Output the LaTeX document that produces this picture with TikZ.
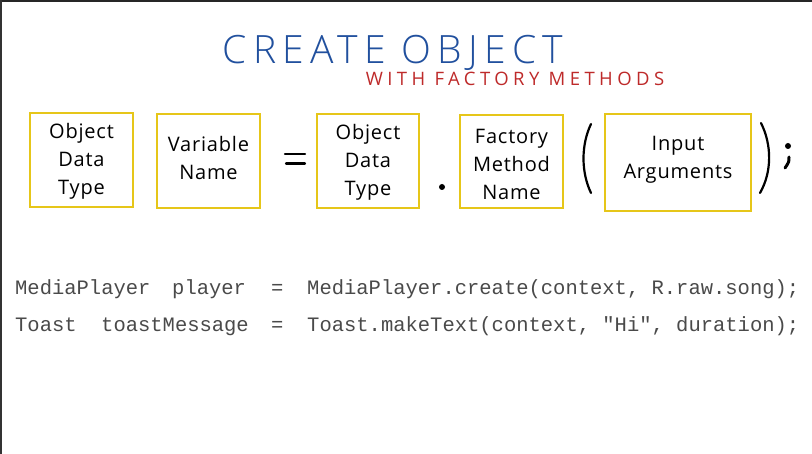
\documentclass[tikz,border=0pt]{standalone}
\usepackage{fontspec}
\setmainfont{Open Sans}
\newfontfamily\handfont[LetterSpace=4]{Open Sans}
\newfontfamily\titlefont[LetterSpace=16]{Open Sans Light}
\newfontfamily\subfont[LetterSpace=24]{Open Sans}
\setmonofont{Liberation Mono}
\definecolor{boxyellow}{HTML}{E6C619}
\definecolor{titleblue}{HTML}{21509E}
\definecolor{subred}{HTML}{BE2A2A}
\definecolor{codegray}{HTML}{4A4A4A}
\begin{document}
\begin{tikzpicture}[x=1pt,y=-1pt,
  termbox/.style={draw=boxyellow,line width=2pt},
  termtext/.style={font=\handfont\fontsize{20}{28}\selectfont,align=center,text=black},
  stroke/.style={line width=2.2pt,line cap=round,black},
  code/.style={font=\ttfamily\fontsize{20.5}{24}\selectfont,text=codegray,anchor=base west,inner sep=0pt}]
\useasboundingbox (0,0) rectangle (812,454);
\fill[white] (0,0) rectangle (812,454);
% frame edges
\fill[black!85] (0,0) rectangle (812,2);
\fill[black!80] (0,0) rectangle (2,454);

% title
\node[text=titleblue,font=\titlefont\fontsize{39}{40}\selectfont,anchor=base] (title) at (393,64) {CREATE OBJECT};
\node[text=subred,font=\subfont\fontsize{18.5}{20}\selectfont,anchor=base] (subtitle) at (515,86) {WITH FACTORY METHODS};

% boxes of the statement pattern
\draw[termbox] (30,113) rectangle (133,207);
\node[termtext] (type1) at (81.5,161) {Object\\Data\\Type};
\draw[termbox] (157,114) rectangle (260,208);
\node[termtext] (var) at (208.5,158) {Variable\\Name};
\draw[termbox] (317,114) rectangle (419,208);
\node[termtext] (type2) at (368,162) {Object\\Data\\Type};
\draw[termbox] (460,115) rectangle (563,208);
\node[termtext] (method) at (511.5,164) {Factory\\Method\\Name};
\draw[termbox] (605,114) rectangle (751,211);
\node[termtext] (args) at (678,160) {Input\\Arguments};

% operators
\draw[stroke] (285,154) -- (305,154);
\draw[stroke] (286,163.5) -- (305,163.5);
\fill[black] (442,187) circle (3pt);
\draw[stroke] (591,124) .. controls (581,145) and (581,172) .. (591,193);
\draw[stroke] (761,123) .. controls (772,145) and (772,172) .. (760,193);
\fill[black] (788,146) circle (3pt);
\draw[stroke,line width=3pt] (789,157) .. controls (789,162) .. (785,168);

% example statements
\node[code] (c1a) at (15,295) {MediaPlayer};
\node[code] (c1b) at (172,295) {player};
\node[code] (c1c) at (271,295) {=};
\node[code] (c1d) at (307,295) {MediaPlayer.create(context, R.raw.song);};
\node[code] (c2a) at (15,332) {Toast};
\node[code] (c2b) at (101,332) {toastMessage};
\node[code] (c2c) at (271,332) {=};
\node[code] (c2d) at (307,332) {Toast.makeText(context, "Hi", duration);};
\end{tikzpicture}
\end{document}
